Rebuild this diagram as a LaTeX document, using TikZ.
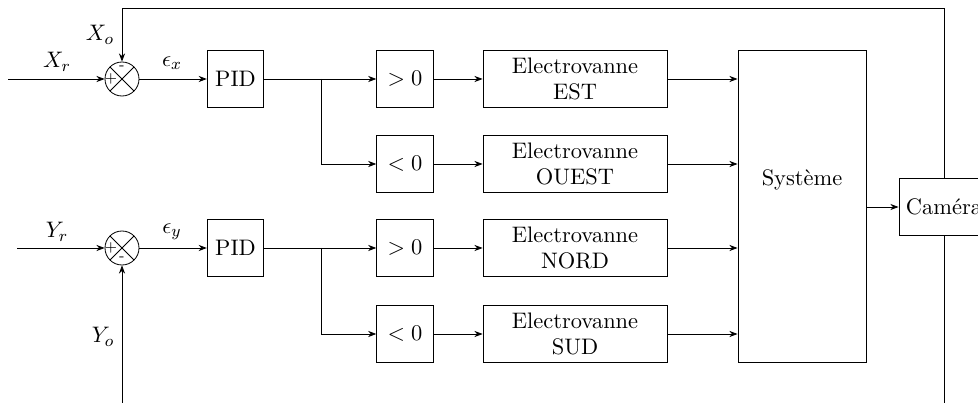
\documentclass[tikz,border=0pt]{standalone}
\usetikzlibrary{arrows.meta}
\begin{document}
\begin{tikzpicture}[x=0.488pt,y=-0.488pt,
  every node/.style={font=\fontsize{10.95pt}{13pt}\selectfont},
  blk/.style={draw, minimum width=27.6pt, minimum height=27.6pt, inner sep=0pt},
  evbox/.style={draw, minimum width=89.8pt, minimum height=27.6pt, align=center, inner sep=0pt},
  sumj/.style={draw, circle, minimum size=16.6pt, inner sep=0pt,
    path picture={\draw (path picture bounding box.north west) -- (path picture bounding box.south east)
      (path picture bounding box.north east) -- (path picture bounding box.south west);}},
  sig/.style={font=\scriptsize, inner sep=0pt},
  conn/.style={-{Stealth[length=4pt,width=3pt]}}]
\useasboundingbox (0,0) rectangle (978,403);
\clip (0,0) rectangle (978,403);
% summing junctions
\node[sumj] (s1) at (122,79) {};
\node[sumj] (s2) at (122,248) {};
\node[sig] at (111,79) {$+$};
\node[sig] at (122,68) {-};
\node[sig] at (111,248) {$+$};
\node[sig] at (122,259) {-};
% PID
\node[blk] (pid1) at (235.5,79) {PID};
\node[blk] (pid2) at (235.5,248) {PID};
% comparators
\node[blk] (gt1) at (405,79) {$>0$};
\node[blk] (lt1) at (405,164) {$<0$};
\node[blk] (gt2) at (405,248) {$>0$};
\node[blk] (lt2) at (405,334) {$<0$};
% valves
\node[evbox] (ev1) at (575,79) {Electrovanne\\EST};
\node[evbox] (ev2) at (575,164) {Electrovanne\\OUEST};
\node[evbox] (ev3) at (575,248) {Electrovanne\\NORD};
\node[evbox] (ev4) at (575,334) {Electrovanne\\SUD};
% system
\node[draw, minimum width=62.5pt, minimum height=152.3pt, inner sep=0pt] (sys) at (802,206) {};
\node (systxt) at (802,180) {Système};
% camera
\node[draw, minimum width=44pt, minimum height=27.8pt, inner sep=0pt] (cam) at (944,207) {Caméra};
% inputs
\coordinate (xin) at (8,79);
\coordinate (yin) at (17,248);
\draw[conn] (xin) -- (s1.west);
\draw[conn] (yin) -- (s2.west);
\node (xr) at (57,62) {$X_r$};
\node (yr) at (57,232) {$Y_r$};
% errors
\draw[conn] (s1.east) -- (pid1.west);
\draw[conn] (s2.east) -- (pid2.west);
\node (ex) at (172,63) {$\epsilon_x$};
\node (ey) at (172,232) {$\epsilon_y$};
% branches
\coordinate (b1) at (321,79);
\coordinate (b2) at (321,248);
\draw[conn] (pid1.east) -- (gt1.west);
\draw[conn] (b1) |- (lt1.west);
\draw[conn] (pid2.east) -- (gt2.west);
\draw[conn] (b2) |- (lt2.west);
% comparators to valves
\draw[conn] (gt1.east) -- (ev1.west);
\draw[conn] (lt1.east) -- (ev2.west);
\draw[conn] (gt2.east) -- (ev3.west);
\draw[conn] (lt2.east) -- (ev4.west);
% valves to system
\draw[conn] (ev1.east) -- (ev1.east -| sys.west);
\draw[conn] (ev2.east) -- (ev2.east -| sys.west);
\draw[conn] (ev3.east) -- (ev3.east -| sys.west);
\draw[conn] (ev4.east) -- (ev4.east -| sys.west);
% system to camera
\draw[conn] (sys.east |- cam.west) -- (cam.west);
% feedback
\coordinate (top) at (944,8);
\coordinate (bot) at (944,440);
\draw[conn] (cam.north) -- (top) -| (s1.north);
\draw[conn] (cam.south) -- (bot) -| (s2.south);
\node (xo) at (100,35) {$X_o$};
\node (yo) at (103,337) {$Y_o$};
\end{tikzpicture}
\end{document}
